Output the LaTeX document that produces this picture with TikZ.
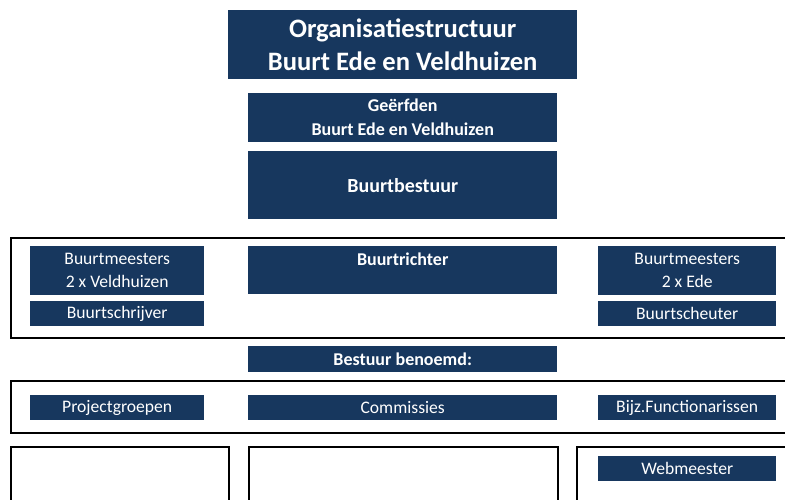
\documentclass[tikz,border=0pt]{standalone}
\usepackage{fontspec}
\setmainfont{Carlito}
\definecolor{navy}{HTML}{17375E}
\begin{document}
\begin{tikzpicture}[x=1pt,y=-1pt,
  box/.style={fill=navy,text=white,inner sep=0pt,anchor=north west,align=center,
    font=\fontsize{17.6}{23}\selectfont},
  boldbox/.style={box,font=\fontsize{18}{24}\selectfont\bfseries},
  frame/.style={draw=black,line width=2pt,inner sep=0pt,anchor=north west}]
\clip (0,0) rectangle (785,499);
% title and top boxes
\node[box,minimum width=349,minimum height=69,font=\fontsize{26.6}{33}\selectfont\bfseries]
  (title) at (228,10) {Organisatiestructuur\\Buurt Ede en Veldhuizen};
\node[boldbox,minimum width=309,minimum height=49]
  (erfden) at (248,93) {Geërfden\\Buurt Ede en Veldhuizen};
\node[box,minimum width=309,minimum height=68,font=\fontsize{20}{24}\selectfont\bfseries]
  (bestuur) at (248,151) {Buurtbestuur};
% frame 1
\node[frame,minimum width=800,minimum height=100] (f1) at (10,237) {};
\node[box,minimum width=174,minimum height=49] (bmv) at (30,246) {Buurtmeesters\\2 x Veldhuizen};
\node[box,minimum width=174,minimum height=25] (schrijver) at (30,301) {Buurtschrijver};
\node[box,align=none,minimum width=309,text height=19,text depth=29,font=\fontsize{18}{24}\selectfont\bfseries]
  (richter) at (248,246) {Buurtrichter};
\node[box,minimum width=178,minimum height=49] (bme) at (598,246) {Buurtmeesters\\2 x Ede};
\node[box,minimum width=178,minimum height=25] (scheuter) at (598,301) {Buurtscheuter};
% benoemd
\node[boldbox,minimum width=309,minimum height=26] (benoemd) at (248,346) {Bestuur benoemd:};
% frame 2
\node[frame,minimum width=800,minimum height=52] (f2) at (10,380) {};
\node[box,minimum width=174,minimum height=25] (project) at (30,395) {Projectgroepen};
\node[box,minimum width=309,minimum height=25] (comm) at (248,395) {Commissies};
\node[box,minimum width=178,minimum height=25] (bijz) at (598,395) {Bijz.Functionarissen};
% bottom frames
\node[frame,minimum width=218,minimum height=70] (f3) at (10,446) {};
\node[frame,minimum width=309,minimum height=70] (f4) at (248,446) {};
\node[frame,minimum width=230,minimum height=70] (f5) at (576,446) {};
\node[box,minimum width=178,minimum height=25] (web) at (598,456) {Webmeester};
\end{tikzpicture}
\end{document}
